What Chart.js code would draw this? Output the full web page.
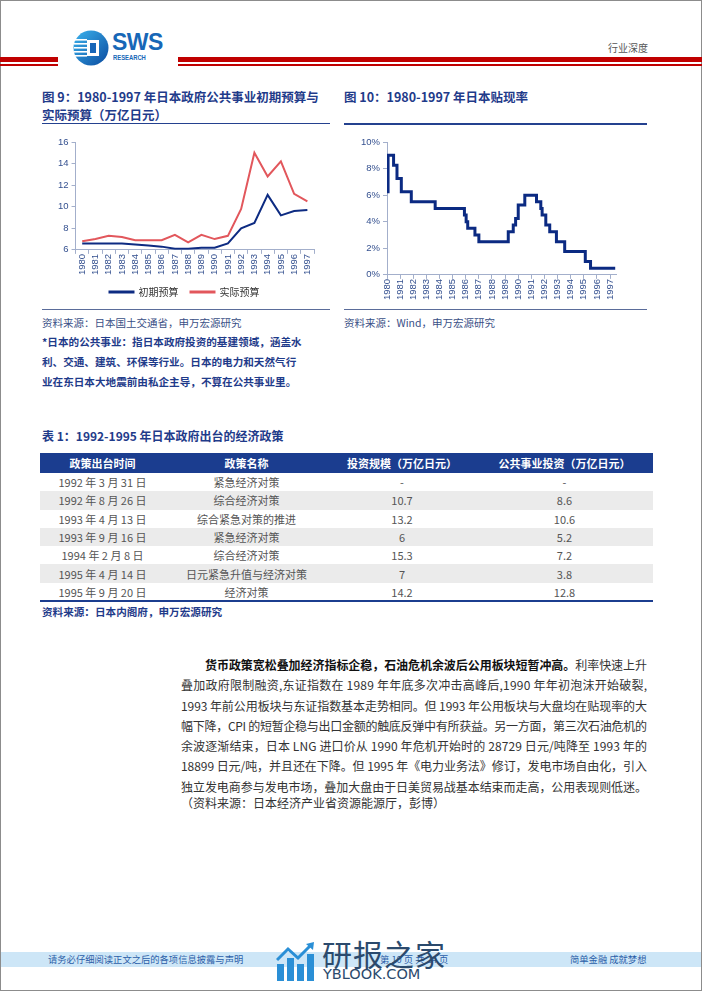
<!DOCTYPE html>
<html>
<head>
<meta charset="utf-8">
<script src="https://cdn.jsdelivr.net/npm/chart.js@4"></script>
<style>
  html, body { margin: 0; padding: 0; background: #fff; }
  body { width: 702px; height: 991px; position: relative; overflow: hidden;
         font-family: "Noto Sans CJK SC", "Noto Sans", sans-serif; }
  .page { position: absolute; left: 0; top: 0; width: 702px; height: 991px;
          box-sizing: border-box; border: 1px solid #8c8c8c; }
  .abs { position: absolute; white-space: nowrap; }
  .ttl { color: #1f3b8a; font-weight: bold; font-size: 12.5px; line-height: 18px; }
  .src { color: #3a4f86; font-size: 10.5px; line-height: 14px; }
  .note { color: #1f3b8a; font-weight: bold; font-size: 10.6px; line-height: 20px; }
  .rule { position: absolute; height: 1.5px; background: #24418f; }
  table { border-collapse: collapse; table-layout: fixed; }
  th { background: #1b3d8f; color: #fff; font-weight: bold; font-size: 11px; height: 20px; padding: 0; }
  td { color: #555; font-size: 11px; height: 18.3px; padding: 0; text-align: center; }
  tr.g td { background: #ebebeb; }
  .para div { height: 20.25px; line-height: 20.25px; font-size: 12px; color: #333; white-space: nowrap; }
</style>
</head>
<body>
<div class="page"></div>

<!-- header -->
<div class="abs" style="left:0;top:57px;width:58px;height:5px;background:#c00000"></div>
<div class="abs" style="left:0;top:64px;width:58px;height:1.5px;background:#c00000"></div>
<div class="abs" style="left:178px;top:57px;width:524px;height:5px;background:#c00000"></div>
<div class="abs" style="left:178px;top:64px;width:524px;height:1.5px;background:#c00000"></div>
<svg class="abs" style="left:73px;top:30px" width="36" height="36" viewBox="0 0 36 36">
  <defs>
    <linearGradient id="lg" x1="0" y1="0" x2="1" y2="1">
      <stop offset="0" stop-color="#3cb4ee"/>
      <stop offset="1" stop-color="#0a4a9f"/>
    </linearGradient>
  </defs>
  <circle cx="18" cy="18" r="17.5" fill="url(#lg)"/>
  <rect x="2" y="9" width="12" height="1.6" fill="#fff"/>
  <rect x="1" y="13" width="13" height="1.6" fill="#fff"/>
  <rect x="1" y="17" width="13" height="1.6" fill="#fff"/>
  <rect x="1" y="21" width="13" height="1.6" fill="#fff"/>
  <rect x="2" y="25" width="12" height="1.6" fill="#fff"/>
  <rect x="14" y="10" width="12" height="16" fill="#fff"/>
  <rect x="17" y="13" width="6" height="10" fill="#1766b8"/>
</svg>
<div class="abs" style="left:112px;top:33px;font-family:'Liberation Sans',Arial,sans-serif;font-weight:bold;font-size:23px;line-height:19px;color:#1767b7;letter-spacing:-0.5px">SWS</div>
<div class="abs" style="left:113px;top:54px;font-family:'Liberation Sans',Arial,sans-serif;font-weight:bold;font-size:6.5px;line-height:7px;color:#1767b7;transform:scaleX(0.9);transform-origin:left">RESEARCH</div>
<div class="abs" style="left:608px;top:41px;font-size:10px;line-height:14px;color:#555">行业深度</div>

<!-- chart titles -->
<div class="abs ttl" style="left:42px;top:88px">图 9：1980-1997 年日本政府公共事业初期预算与<br>实际预算（万亿日元）</div>
<div class="rule" style="left:42px;top:122.5px;width:288px"></div>
<div class="abs ttl" style="left:344px;top:88px">图 10：1980-1997 年日本贴现率</div>
<div class="rule" style="left:344px;top:123px;width:303px"></div>

<canvas id="budgetChart" class="abs" style="left:42px;top:131px" width="290" height="176"></canvas>
<canvas id="rateChart" class="abs" style="left:344px;top:128px" width="300" height="174"></canvas>

<div class="abs" style="left:42px;top:308.5px;width:288px;height:1px;background:#5a6c9a"></div>
<div class="abs" style="left:344px;top:308.5px;width:303px;height:1px;background:#5a6c9a"></div>
<div class="abs src" style="left:42px;top:315.5px">资料来源：日本国土交通省，申万宏源研究</div>
<div class="abs src" style="left:344px;top:315.5px">资料来源：Wind，申万宏源研究</div>
<div class="abs note" style="left:42px;top:332px">*日本的公共事业：指日本政府投资的基建领域，涵盖水<br>利、交通、建筑、环保等行业。日本的电力和天然气行<br>业在东日本大地震前由私企主导，不算在公共事业里。</div>

<!-- table -->
<div class="abs ttl" style="left:42px;top:427px;font-size:12px">表 1：1992-1995 年日本政府出台的经济政策</div>
<table id="policyTable" class="abs" style="left:40px;top:453px;width:613px">
  <colgroup><col style="width:125px"><col style="width:163px"><col style="width:148px"><col style="width:177px"></colgroup>
  <thead><tr><th>政策出台时间</th><th>政策名称</th><th>投资规模（万亿日元）</th><th>公共事业投资（万亿日元）</th></tr></thead>
  <tbody></tbody>
</table>
<div class="abs" style="left:40px;top:600px;width:613px;height:1.5px;background:#1b3d8f"></div>
<div class="abs note" style="left:42px;top:602px;line-height:19px">资料来源：日本内阁府，申万宏源研究</div>

<!-- body text -->
<div class="abs para" style="left:181px;top:655px;width:466px">
  <div data-w="442" style="padding-left:24px"><span><b style="color:#111">货币政策宽松叠加经济指标企稳，石油危机余波后公用板块短暂冲高。</b>利率快速上升</span></div>
  <div data-w="466"><span>叠加政府限制融资,东证指数在 1989 年年底多次冲击高峰后,1990 年年初泡沫开始破裂,</span></div>
  <div data-w="466"><span>1993 年前公用板块与东证指数基本走势相同。但 1993 年公用板块与大盘均在贴现率的大</span></div>
  <div data-w="466"><span>幅下降，CPI 的短暂企稳与出口金额的触底反弹中有所获益。另一方面，第三次石油危机的</span></div>
  <div data-w="466"><span>余波逐渐结束，日本 LNG 进口价从 1990 年危机开始时的 28729 日元/吨降至 1993 年的</span></div>
  <div data-w="466"><span>18899 日元/吨，并且还在下降。但 1995 年《电力业务法》修订，发电市场自由化，引入</span></div>
  <div data-w="466"><span>独立发电商参与发电市场，叠加大盘由于日美贸易战基本结束而走高，公用表现则低迷。</span></div>
</div>
<div class="abs" style="left:181px;top:793px;font-size:12px;line-height:20px;color:#333">（资料来源：日本经济产业省资源能源厅，彭博）</div>

<!-- footer -->
<div class="abs" style="left:1px;top:952px;width:700px;height:15px;background:#cde6f7"></div>
<div class="abs" style="left:48px;top:952px;font-size:9.3px;line-height:15px;color:#2b5ea8">请务必仔细阅读正文之后的各项信息披露与声明</div>
<div class="abs" style="left:380px;top:952px;font-size:9.3px;line-height:15px;color:#2b5ea8">第 10 页 共 24 页</div>
<div class="abs" style="left:570px;top:952px;font-size:9.3px;line-height:15px;color:#2b5ea8">简单金融 成就梦想</div>
<svg class="abs" style="left:276px;top:942px" width="40" height="40" viewBox="0 0 40 40">
  <rect x="1" y="22" width="7" height="17" fill="#2a8fd6"/>
  <rect x="11" y="16" width="7" height="23" fill="#2a8fd6"/>
  <rect x="21" y="22" width="7" height="17" fill="#2a8fd6"/>
  <rect x="31" y="12" width="7" height="27" fill="#2a8fd6"/>
  <polyline points="1,18 12,7 22,16 35,3" fill="none" stroke="#2a8fd6" stroke-width="3"/>
  <polygon points="30,2 38,0 37,8" fill="#2a8fd6"/>
</svg>
<div class="abs" style="left:322px;top:936px;font-size:30px;line-height:34px;color:#2b4a6d;letter-spacing:1px">研报之家</div>
<div class="abs" style="left:323px;top:966px;font-family:'DejaVu Sans',sans-serif;font-size:14.5px;line-height:16px;color:#2b4a6d">YBLOOK.COM</div>

<script>
// 图9：公共事业预算（万亿日元）
const budgetYears = ['1980','1981','1982','1983','1984','1985','1986','1987','1988',
                     '1989','1990','1991','1992','1993','1994','1995','1996','1997'];
const initialBudget = [6.6, 6.6, 6.6, 6.6, 6.5, 6.4, 6.3, 6.1, 6.1, 6.2, 6.2, 6.6, 8.0, 8.5, 11.1, 9.2, 9.6, 9.7];
const actualBudget  = [6.8, 7.0, 7.3, 7.2, 6.9, 6.9, 6.9, 7.4, 6.7, 7.4, 7.0, 7.3, 9.8, 15.0, 12.8, 14.2, 11.2, 10.5];

// 图10：贴现率（调整时点，年）
const rateDates = [1980.0, 1980.08, 1980.5, 1980.76, 1981.09, 1981.85, 1983.67, 1985.9, 1986.03, 1986.15,
                   1986.7, 1987.0, 1989.24, 1989.62, 1989.8, 1990.0, 1990.5, 1991.39, 1991.72, 1991.82,
                   1992.1, 1992.4, 1992.91, 1993.54, 1995.11, 1995.51, 1997.39];
const rates = [6.25, 9.0, 8.25, 7.25, 6.25, 5.5, 5.0, 4.5, 4.0, 3.5,
               3.0, 2.5, 3.25, 3.75, 4.25, 5.25, 6.0, 5.5, 5.0, 4.5,
               3.75, 3.25, 2.5, 1.75, 1.0, 0.5, 0.5];
const rateTickYears = [1980,1981,1982,1983,1984,1985,1986,1987,1988,1989,1990,1991,1992,1993,1994,1995,1996,1997];

// 表1
const policyDates = ['1992 年 3 月 31 日','1992 年 8 月 26 日','1993 年 4 月 13 日','1993 年 9 月 16 日',
                     '1994 年 2 月 8 日','1995 年 4 月 14 日','1995 年 9 月 20 日'];
const policyNames = ['紧急经济对策','综合经济对策','综合紧急对策的推进','紧急经济对策',
                     '综合经济对策','日元紧急升值与经济对策','经济对策'];
const investScale = ['-','10.7','13.2','6','15.3','7','14.2'];
const publicInvest = ['-','8.6','10.6','5.2','7.2','3.8','12.8'];

const tbody = document.querySelector('#policyTable tbody');
policyDates.forEach((d, i) => {
    const tr = document.createElement('tr');
    if (i % 2 == 1) tr.className = 'g';
    [d, policyNames[i], investScale[i], publicInvest[i]].forEach(v => {
        const td = document.createElement('td');
        td.textContent = v;
        tr.appendChild(td);
    });
    tbody.appendChild(tr);
});

// stretch each body line to the full column width
document.querySelectorAll('.para div').forEach(div => {
    const span = div.querySelector('span');
    const w = span.getBoundingClientRect().width;
    const n = span.textContent.length;
    const target = Number(div.dataset.w);
    div.style.letterSpacing = ((target - w) / (n - 1)) + 'px';
});

const tickColor = '#34508f';
const axisColor = '#a3afcb';
const tickFont = { family: "'Liberation Sans', Arial, sans-serif", size: 9.5 };

new Chart('budgetChart', {
    type: 'line',
    data: {
        labels: budgetYears,
        datasets: [
            { label: '初期预算', data: initialBudget, borderColor: '#0d2b82', backgroundColor: '#0d2b82',
              borderWidth: 2, pointRadius: 0, tension: 0 },
            { label: '实际预算', data: actualBudget, borderColor: '#e2575c', backgroundColor: '#e2575c',
              borderWidth: 2, pointRadius: 0, tension: 0 }
        ]
    },
    options: {
        responsive: false,
        animation: false,
        layout: { padding: { left: 13, right: 18, top: 11, bottom: 0 } },
        plugins: {
            legend: {
                position: 'bottom',
                labels: {
                    boxWidth: 24, boxHeight: 1,
                    color: '#333', padding: 12,
                    font: { family: "'Noto Sans CJK SC', sans-serif", size: 10 }
                }
            },
            tooltip: { enabled: false }
        },
        scales: {
            x: {
                offset: true,
                grid: { display: true, drawOnChartArea: false, offset: true, color: axisColor, tickLength: 4 },
                border: { color: axisColor },
                ticks: { color: tickColor, font: tickFont, minRotation: 90, maxRotation: 90, autoSkip: false, padding: 0 }
            },
            y: {
                min: 6, max: 16,
                grid: { drawOnChartArea: false, color: axisColor, tickLength: 4 },
                border: { color: axisColor },
                ticks: { stepSize: 2, color: tickColor, font: tickFont, padding: 3 }
            }
        }
    }
});

new Chart('rateChart', {
    type: 'line',
    data: {
        datasets: [{
            label: '贴现率',
            data: rateDates.map((d, i) => ({ x: d, y: rates[i] })),
            borderColor: '#0b2a82', borderWidth: 3, pointRadius: 0, stepped: true
        }]
    },
    options: {
        responsive: false,
        animation: false,
        layout: { padding: { left: 14, right: 28, top: 14, bottom: 2 } },
        plugins: { legend: { display: false }, tooltip: { enabled: false } },
        scales: {
            x: {
                type: 'linear', min: 1980, max: 1997.45,
                afterBuildTicks: (axis) => { axis.ticks = rateTickYears.map(v => ({ value: v })); },
                grid: { drawOnChartArea: false, color: axisColor, tickLength: 4 },
                border: { color: axisColor },
                ticks: { color: tickColor, font: tickFont, minRotation: 90, maxRotation: 90, autoSkip: false,
                         padding: 0, callback: (v) => String(v) }
            },
            y: {
                min: 0, max: 10,
                grid: { drawOnChartArea: false, color: axisColor, tickLength: 4 },
                border: { color: axisColor },
                ticks: { stepSize: 1, color: tickColor, font: tickFont, padding: 3, callback: (v) => v + '%' }
            }
        }
    }
});
</script>
</body>
</html>
